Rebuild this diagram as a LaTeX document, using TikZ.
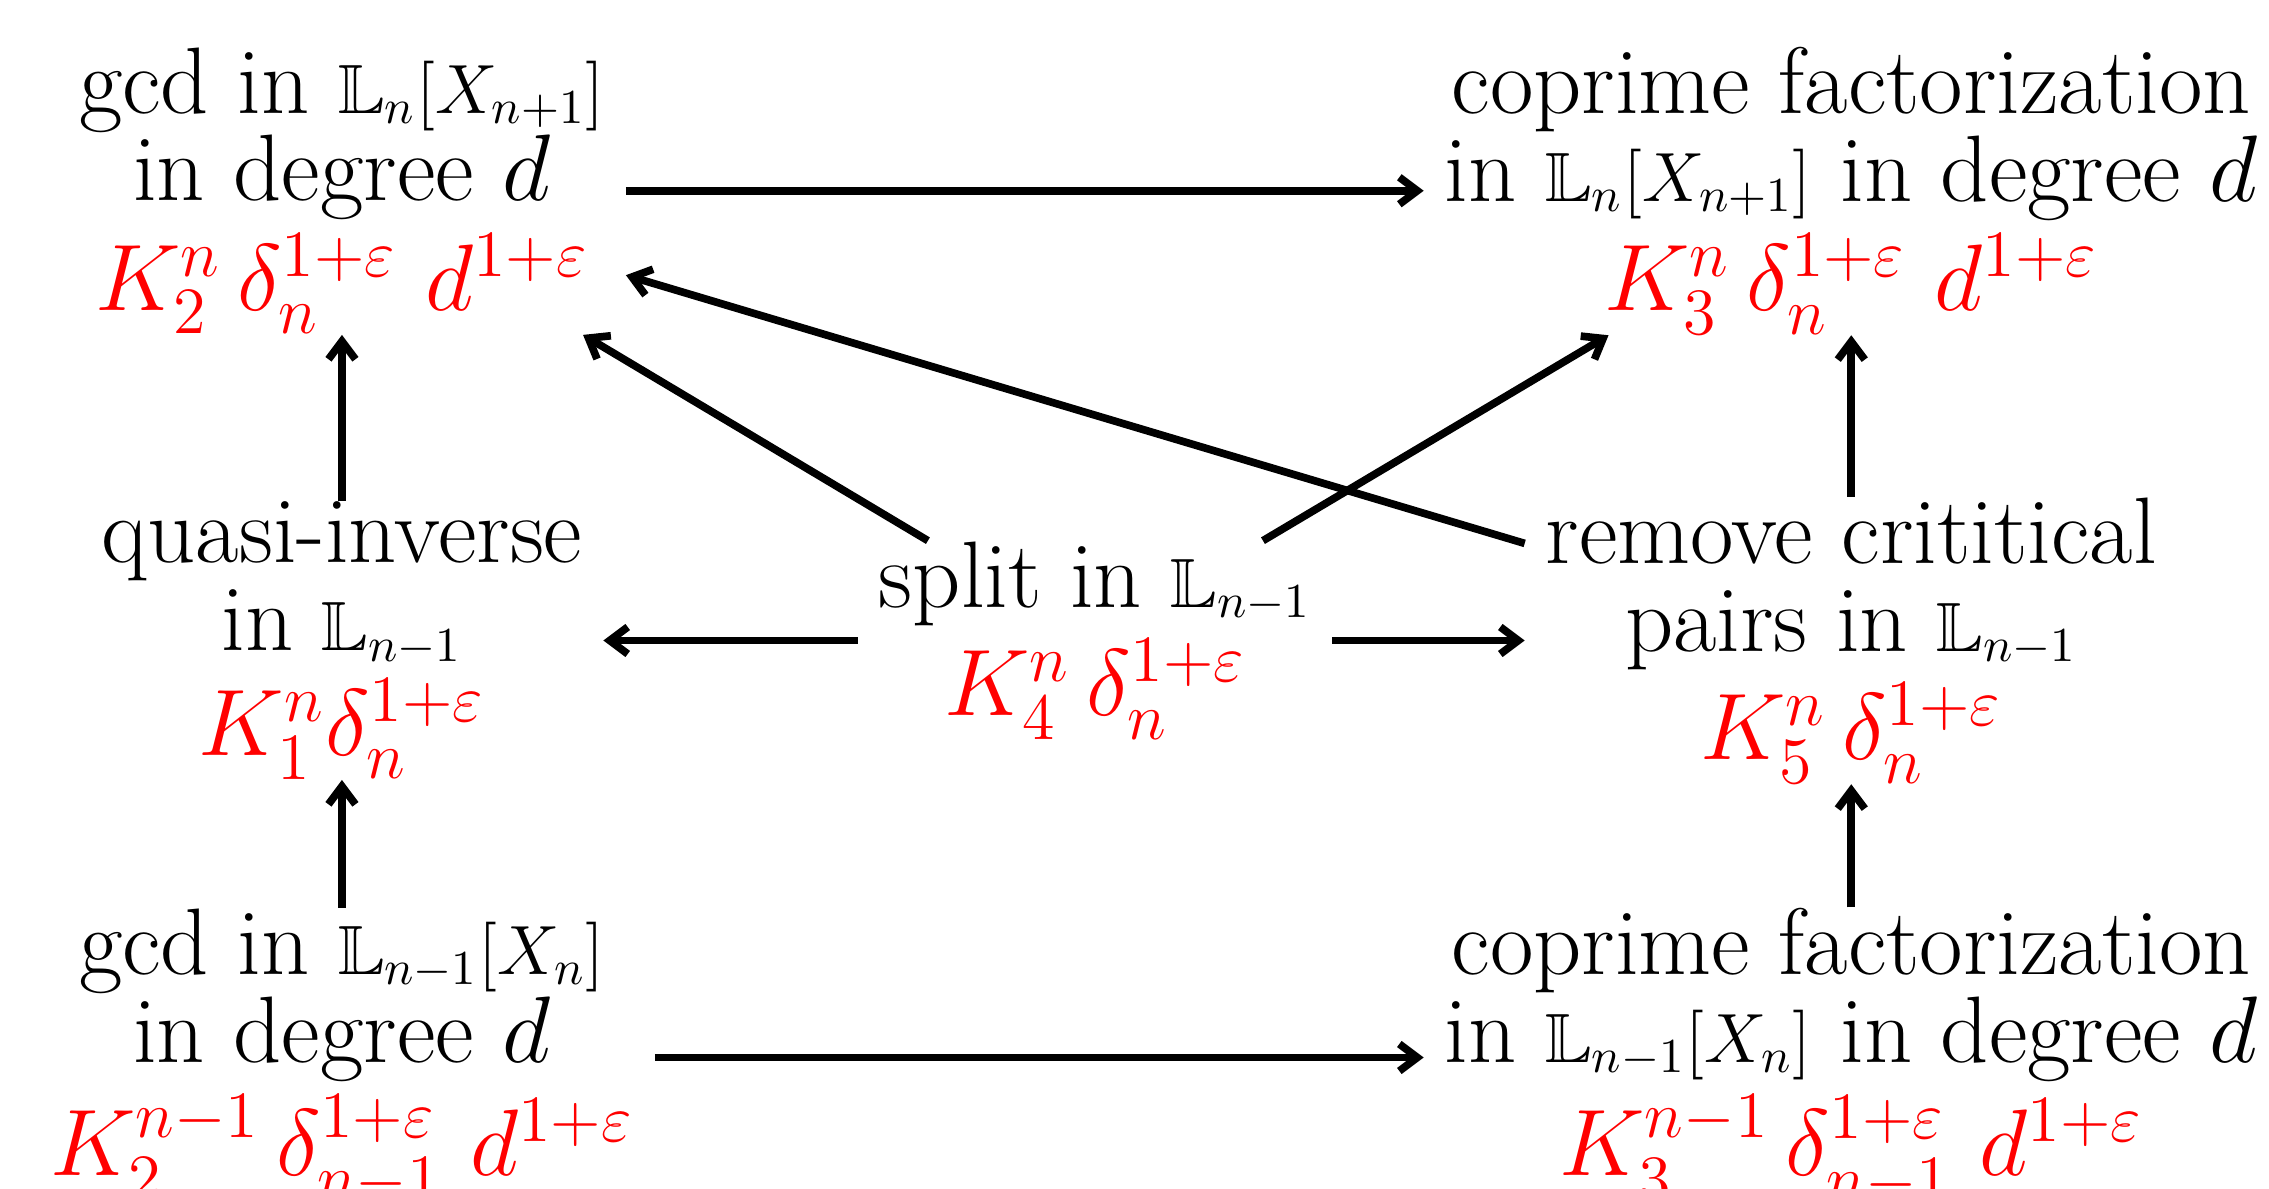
\RequirePackage{fix-cm}
\documentclass[tikz,border=0pt]{standalone}
\usepackage{amssymb}
\usepackage{xcolor}
\usetikzlibrary{arrows.meta}

\newcommand{\smallmath}[1]{{\fontsize{15.5}{15.5}\selectfont$#1$}}
\newcommand{\cost}[1]{\textcolor{red}{$#1$}}

\tikzset{
    % text blocks
    stage/.style={
        align=center,
        font={\fontsize{21}{19.5}\selectfont},
        inner xsep=4.5pt,
        inner ysep=0pt
    },
    % arrows
    arrow/.style={
        -{Straight Barb[length=4pt,width=6pt]},
        line width=1.7pt
    }
}

\begin{document}
\begin{tikzpicture}
    \useasboundingbox (0,0) rectangle (17.723,-9.287);

    % top row
    \node[stage] (gcdtop) at (2.671,-1.49)
        {gcd in \smallmath{\mathbb{L}_n[X_{n+1}]}\\ in degree $d$\\[2pt]
         \cost{K_2^n\,\delta_n^{1+\varepsilon}\ d^{1+\varepsilon}}};
    \node[stage] (coptop) at (14.46,-1.49)
        {coprime factorization\\ in \smallmath{\mathbb{L}_n[X_{n+1}]} in degree $d$\\[2pt]
         \cost{K_3^n\,\delta_n^{1+\varepsilon}\ d^{1+\varepsilon}}};

    % middle row
    \node[stage] (quasi) at (2.671,-5.003)
        {quasi-inverse\\ in \smallmath{\mathbb{L}_{n-1}}\\[2pt]
         \cost{K_1^n\delta_n^{1+\varepsilon}}};
    \node[stage] (split) at (8.553,-5.003)
        {split in \smallmath{\mathbb{L}_{n-1}}\\[2pt]
         \cost{K_4^n\,\delta_n^{1+\varepsilon}}};
    \node[stage] (remove) at (14.46,-5.003)
        {remove crititical\\ pairs in \smallmath{\mathbb{L}_{n-1}}\\[2pt]
         \cost{K_5^n\,\delta_n^{1+\varepsilon}}};

    % bottom row
    \node[stage] (gcdbot) at (2.671,-8.26)
        {gcd in \smallmath{\mathbb{L}_{n-1}[X_n]}\\ in degree $d$\\[2pt]
         \cost{K_2^{n-1}\,\delta_{n-1}^{1+\varepsilon}\ d^{1+\varepsilon}}};
    \node[stage] (copbot) at (14.46,-8.26)
        {coprime factorization\\ in \smallmath{\mathbb{L}_{n-1}[X_n]} in degree $d$\\[2pt]
         \cost{K_3^{n-1}\,\delta_{n-1}^{1+\varepsilon}\ d^{1+\varepsilon}}};

    \draw[arrow] (gcdtop) -- (coptop);
    \draw[arrow] (gcdbot) -- (copbot);
    \draw[arrow] (gcdbot) -- (quasi);
    \draw[arrow] (quasi) -- (gcdtop);
    \draw[arrow] (copbot) -- (remove);
    \draw[arrow] (remove) -- (coptop);
    \draw[arrow] (split) -- (quasi);
    \draw[arrow] (split) -- (remove);
    \draw[arrow] (split) -- (gcdtop);
    \draw[arrow] (split) -- (coptop);
    \draw[arrow] (remove) -- (gcdtop);
\end{tikzpicture}
\end{document}
